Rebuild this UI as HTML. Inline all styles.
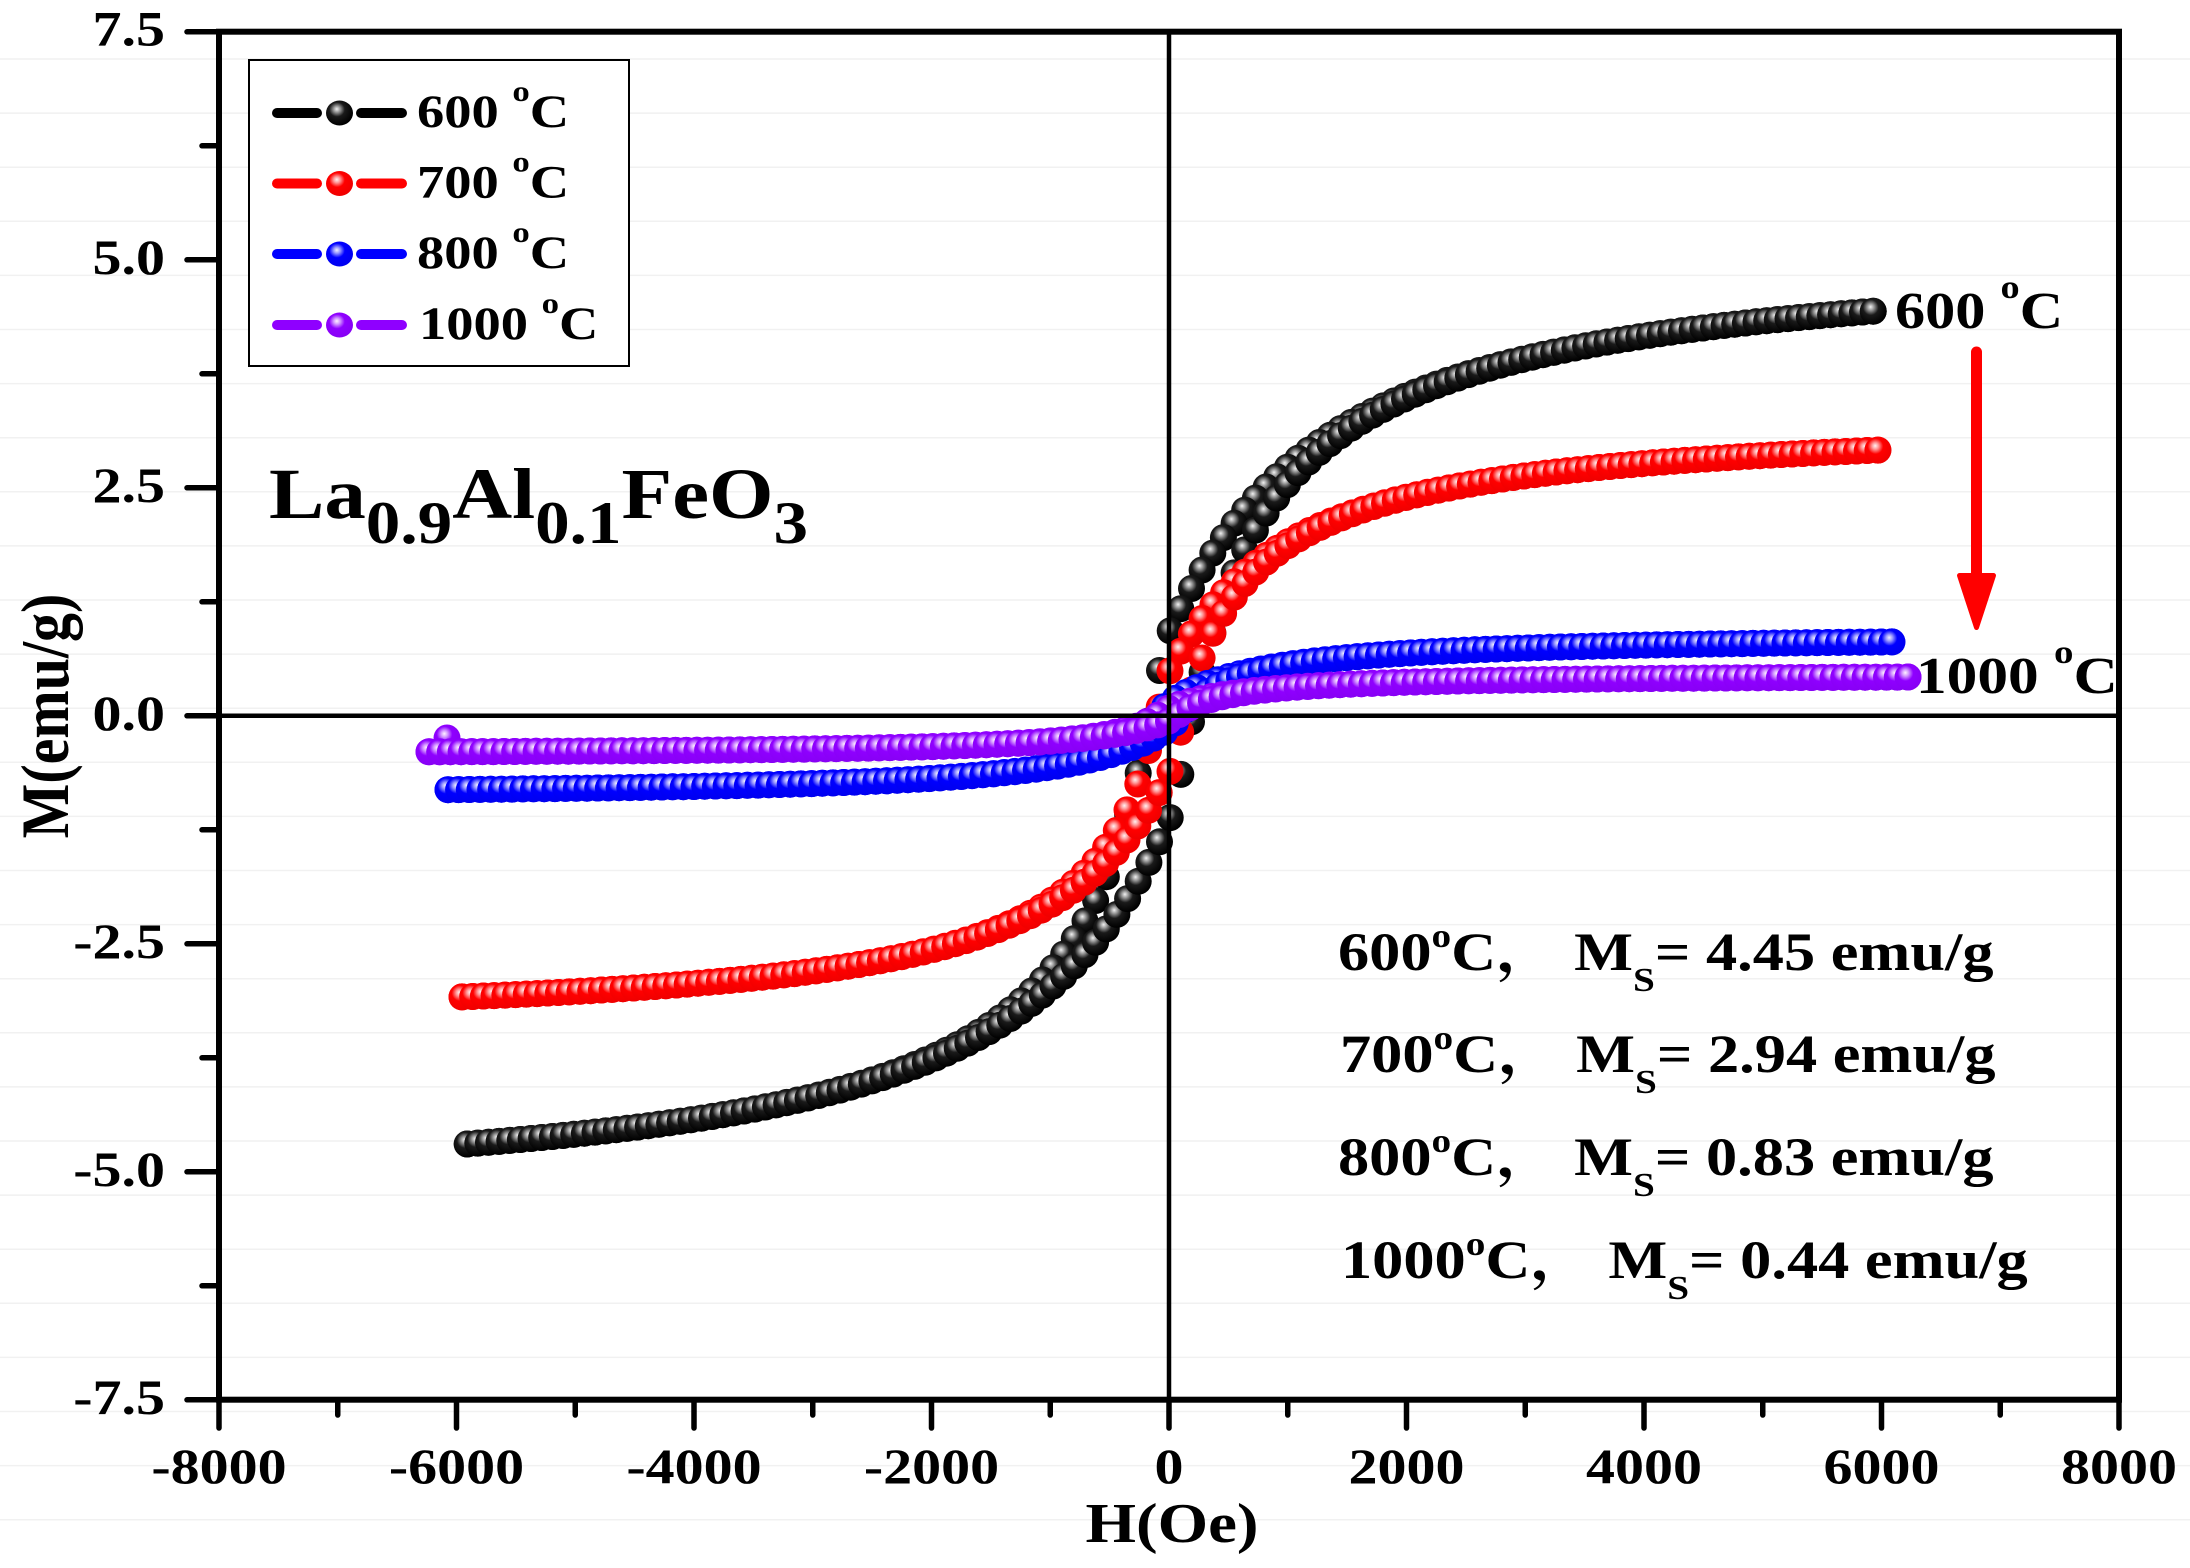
<!DOCTYPE html>
<html><head><meta charset="utf-8"><style>
html,body{margin:0;padding:0;background:#fff;}
svg{display:block;}
text{font-family:"Liberation Serif","Times New Roman","Noto Serif CJK SC",serif;font-weight:bold;fill:#000;}
</style></head><body>
<svg id="s" width="2190" height="1568" viewBox="0 0 2190 1568" xmlns="http://www.w3.org/2000/svg">
<defs>
<radialGradient id="gk" cx="0.42" cy="0.38" r="0.6" fx="0.4" fy="0.34">
<stop offset="0" stop-color="#f2f2f2"/><stop offset="0.2" stop-color="#9a9a9a"/><stop offset="0.48" stop-color="#1a1a1a"/><stop offset="1" stop-color="#000"/></radialGradient>
<radialGradient id="gr" cx="0.42" cy="0.38" r="0.6" fx="0.4" fy="0.34">
<stop offset="0" stop-color="#fff2f2"/><stop offset="0.2" stop-color="#ff9a9a"/><stop offset="0.48" stop-color="#ff0000"/><stop offset="1" stop-color="#f00000"/></radialGradient>
<radialGradient id="gb" cx="0.42" cy="0.38" r="0.6" fx="0.4" fy="0.34">
<stop offset="0" stop-color="#f2f2ff"/><stop offset="0.2" stop-color="#9a9aff"/><stop offset="0.48" stop-color="#0000ff"/><stop offset="1" stop-color="#0000f0"/></radialGradient>
<radialGradient id="gp" cx="0.42" cy="0.38" r="0.6" fx="0.4" fy="0.34">
<stop offset="0" stop-color="#fff2ff"/><stop offset="0.2" stop-color="#d49aff"/><stop offset="0.48" stop-color="#8f00ff"/><stop offset="1" stop-color="#8800f5"/></radialGradient>
<clipPath id="pc"><rect x="219" y="31" width="1900" height="1369"/></clipPath>
</defs>
<rect width="2190" height="1568" fill="#fff"/>
<g id="grid" stroke="#f1f1f1" stroke-width="1.5"></g>
<g id="balls"></g>

<!-- zero lines -->
<line x1="219" y1="715.8" x2="2119" y2="715.8" stroke="#000" stroke-width="4.5"/>
<line x1="1169" y1="31.7" x2="1169" y2="1400" stroke="#000" stroke-width="4.5"/>

<!-- frame -->
<rect x="219" y="31.7" width="1900" height="1368" fill="none" stroke="#000" stroke-width="6"/>
<g id="ticks" stroke="#000" stroke-width="5.5" stroke-linecap="round"></g>

<!-- y tick labels -->
<g font-size="50" text-anchor="end">
<text transform="translate(165,45.7) scale(1.16,1)">7.5</text>
<text transform="translate(165,273.8) scale(1.16,1)">5.0</text>
<text transform="translate(165,501.8) scale(1.16,1)">2.5</text>
<text transform="translate(165,729.8) scale(1.16,1)">0.0</text>
<text transform="translate(165,957.8) scale(1.16,1)">-2.5</text>
<text transform="translate(165,1185.8) scale(1.16,1)">-5.0</text>
<text transform="translate(165,1413.8) scale(1.16,1)">-7.5</text>
</g>
<!-- x tick labels -->
<g font-size="50" text-anchor="middle">
<text transform="translate(219,1483) scale(1.16,1)">-8000</text>
<text transform="translate(456.5,1483) scale(1.16,1)">-6000</text>
<text transform="translate(694,1483) scale(1.16,1)">-4000</text>
<text transform="translate(931.5,1483) scale(1.16,1)">-2000</text>
<text transform="translate(1169,1483) scale(1.16,1)">0</text>
<text transform="translate(1406.5,1483) scale(1.16,1)">2000</text>
<text transform="translate(1644,1483) scale(1.16,1)">4000</text>
<text transform="translate(1881.5,1483) scale(1.16,1)">6000</text>
<text transform="translate(2119,1483) scale(1.16,1)">8000</text>
</g>

<!-- axis titles -->
<text font-size="56" text-anchor="middle" transform="translate(1172,1542) scale(1.16,1)">H(Oe)</text>
<text font-size="58" text-anchor="middle" transform="translate(68,716) rotate(-90) scale(1,1.16)">M(emu/g)</text>

<!-- legend -->
<rect x="249" y="60" width="380" height="306" fill="#fff" stroke="#000" stroke-width="2"/>
<g stroke-width="10" stroke-linecap="round">
<line x1="277" y1="113" x2="317" y2="113" stroke="#000"/><line x1="361" y1="113" x2="402" y2="113" stroke="#000"/>
<line x1="277" y1="183.5" x2="317" y2="183.5" stroke="#f00"/><line x1="361" y1="183.5" x2="402" y2="183.5" stroke="#f00"/>
<line x1="277" y1="254" x2="317" y2="254" stroke="#00f"/><line x1="361" y1="254" x2="402" y2="254" stroke="#00f"/>
<line x1="277" y1="325" x2="317" y2="325" stroke="#8f00ff"/><line x1="361" y1="325" x2="402" y2="325" stroke="#8f00ff"/>
</g>
<ellipse cx="339.5" cy="113" rx="13.5" ry="12.5" fill="url(#gk)"/>
<ellipse cx="339.5" cy="183.5" rx="13.5" ry="12.5" fill="url(#gr)"/>
<ellipse cx="339.5" cy="254" rx="13.5" ry="12.5" fill="url(#gb)"/>
<ellipse cx="339.5" cy="325" rx="13.5" ry="12.5" fill="url(#gp)"/>
<g font-size="47">
<text transform="translate(417,127) scale(1.16,1)">600 <tspan font-size="30" dy="-26">o</tspan><tspan dy="26">C</tspan></text>
<text transform="translate(417,197.5) scale(1.16,1)">700 <tspan font-size="30" dy="-26">o</tspan><tspan dy="26">C</tspan></text>
<text transform="translate(417,268) scale(1.16,1)">800 <tspan font-size="30" dy="-26">o</tspan><tspan dy="26">C</tspan></text>
<text transform="translate(419,339) scale(1.16,1)">1000 <tspan font-size="30" dy="-26">o</tspan><tspan dy="26">C</tspan></text>
</g>

<!-- formula -->
<text font-size="72" transform="translate(269,518) scale(1.152,1)">La<tspan font-size="60" dy="25">0.9</tspan><tspan dy="-25">Al</tspan><tspan font-size="60" dy="25">0.1</tspan><tspan dy="-25">FeO</tspan><tspan font-size="60" dy="25">3</tspan></text>

<!-- right labels -->
<text font-size="52" transform="translate(1895,328) scale(1.16,1)">600 <tspan font-size="33" dy="-30">o</tspan><tspan dy="30">C</tspan></text>
<g clip-path="url(#pc)">
<text font-size="52" transform="translate(1916,693) scale(1.18,1)">1000 <tspan font-size="33" dy="-30">o</tspan><tspan dy="30">C</tspan></text>
</g>
<line x1="2119" y1="31.7" x2="2119" y2="1400" stroke="#000" stroke-width="6"/>

<!-- arrow -->
<path d="M1976.5 352 L1976.5 578" stroke="#f00" stroke-width="11" stroke-linecap="round" fill="none"/>
<path d="M1959.5 575.5 L1993.5 575.5 L1976.5 627.5 Z" fill="#f00" stroke="#f00" stroke-width="5" stroke-linejoin="round"/>

<!-- Ms annotations -->
<g font-size="54">
<text transform="translate(1338,970) scale(1.155,1)">600<tspan font-size="34" dy="-23">o</tspan><tspan dy="23">C，</tspan> M<tspan font-size="34" dy="21">S</tspan><tspan dy="-21">= 4.45 emu/g</tspan></text>
<text transform="translate(1340,1072) scale(1.155,1)">700<tspan font-size="34" dy="-23">o</tspan><tspan dy="23">C，</tspan> M<tspan font-size="34" dy="21">S</tspan><tspan dy="-21">= 2.94 emu/g</tspan></text>
<text transform="translate(1338,1175) scale(1.155,1)">800<tspan font-size="34" dy="-23">o</tspan><tspan dy="23">C，</tspan> M<tspan font-size="34" dy="21">S</tspan><tspan dy="-21">= 0.83 emu/g</tspan></text>
<text transform="translate(1341,1278) scale(1.155,1)">1000<tspan font-size="34" dy="-23">o</tspan><tspan dy="23">C，</tspan> M<tspan font-size="34" dy="21">S</tspan><tspan dy="-21">= 0.44 emu/g</tspan></text>
</g>
</svg>
<script>
(function(){
var NS="http://www.w3.org/2000/svg";
function el(n,a,p){var e=document.createElementNS(NS,n);for(var k in a)e.setAttribute(k,a[k]);p.appendChild(e);return e;}
var grid=document.getElementById("grid");
for(var k=0;k<28;k++){var y=59+54.1*k;el("line",{x1:0,y1:y,x2:2190,y2:y},grid);}
var ticks=document.getElementById("ticks");
for(var i=0;i<=12;i++){var v=7.5-i*1.25;var y=715.8-v*91.2;var major=(i%2===0);
 el("line",{x1:major?187:202,y1:y,x2:219,y2:y},ticks);}
for(var i=0;i<=16;i++){var h=-8000+i*1000;var x=1169+h*0.11875;var major=(i%2===0);
 el("line",{x1:x,y1:1400,x2:x,y2:major?1428:1415},ticks);}
var X=function(h){return 1169+h*0.11875;},Y=function(m){return 715.8-m*91.2;};
function g(p,h){return p.A*h/(Math.abs(h)+p.h0)+p.off;}
function sh(p,H){return p.c*Math.exp(-Math.abs(H)/p.w);}
var S=[
 {A:5.26,h0:900,off:-0.13,c:220,w:900,lo:-5910,hi:5930,f:"url(#gk)"},
 {A:3.35,h0:700,off:-0.085,c:140,w:600,lo:-5954,hi:5970,f:"url(#gr)"},
 {A:0.889,h0:590,off:0,c:120,w:600,lo:-6072,hi:6088,f:"url(#gb)"},
 {A:0.444,h0:517,off:0.015,c:100,w:600,lo:-6232,hi:6223,f:"url(#gp)"}];
var B=document.getElementById("balls");
S.forEach(function(p,idx){
 var N=Math.round((p.hi-p.lo)/90),d=(p.hi-p.lo)/N,i,H;
 for(i=0;i<=N;i++){H=p.hi-i*d;el("circle",{cx:X(H).toFixed(1),cy:Y(g(p,H+sh(p,H))).toFixed(1),r:13.5,fill:p.f},B);}
 if(idx===3){el("circle",{cx:447,cy:738,r:13.5,fill:p.f},B);}
 for(i=0;i<=N;i++){H=p.lo+i*d;el("circle",{cx:X(H).toFixed(1),cy:Y(g(p,H-sh(p,H))).toFixed(1),r:13.5,fill:p.f},B);}
});
})();
</script>
</body></html>
